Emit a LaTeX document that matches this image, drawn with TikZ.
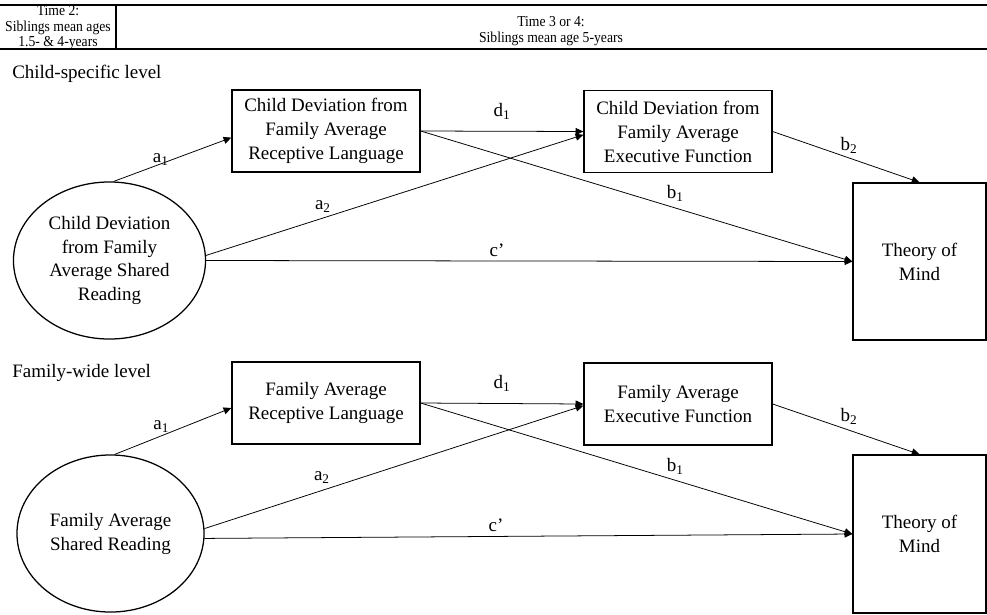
\documentclass[tikz,border=0pt]{standalone}
\usepackage{fontspec}
\setmainfont{Liberation Serif}
\newfontfamily\hdfont[FakeStretch=0.9]{Liberation Serif}
\usepackage{tikz}
\usetikzlibrary{arrows.meta, shapes.geometric}

\begin{document}
\begin{tikzpicture}[x=0.025cm, y=-0.025cm,
    font=\fontsize{13.5}{17}\selectfont,
    varbox/.style={draw, line width=0.9pt, minimum width=4.7cm,
                   minimum height=2.05cm, align=center, inner sep=0pt},
    tombox/.style={draw, line width=0.9pt, minimum width=3.325cm,
                   minimum height=3.925cm, align=center, inner sep=0pt},
    latent/.style={draw, ellipse, line width=0.9pt, minimum width=4.8cm,
                   minimum height=3.925cm, align=center, inner sep=0pt},
    header/.style={align=center, font=\hdfont\fontsize{10.8}{11}\selectfont},
    link/.style={-{Triangle[length=5.5pt, width=5pt]}, line width=0.55pt},
    lbl/.style={inner sep=0pt}]
  \useasboundingbox (0,0) rectangle (987,614);

  % header
  \draw[line width=1.4pt] (0,5) -- (987,5);
  \draw[line width=1.4pt] (0,49) -- (987,49);
  \draw[line width=1.2pt] (116,5) -- (116,49);
  \node[header] (hdtwo) at (58,28)
    {Time 2:\\Siblings mean ages\\1.5- \& 4-years};
  \node[header] (hdthree) at (551,31)
    {Time 3 or 4:\\Siblings mean age 5-years};

  % child-specific level
  \node[anchor=west, inner sep=0pt] (lvlchild) at (12,74) {Child-specific level};
  \node[latent] (srchild) at (109.5,260.5)
    {Child Deviation\\from Family\\Average Shared\\Reading};
  \node[varbox] (rlchild) at (326,131)
    {Child Deviation from\\Family Average\\Receptive Language};
  \node[varbox] (efchild) at (678,131.5)
    {Child Deviation from\\Family Average\\Executive Function};
  \node[tombox] (tomchild) at (919.5,261.5) {Theory of\\Mind};

  \draw[link] (srchild.87) -- node[lbl, pos=0.4, above=-1.5pt] {a\textsubscript{1}} (rlchild.184);
  \draw[link] (srchild.3) -- node[lbl, pos=0.31, above=4pt] {a\textsubscript{2}} (efchild.182);
  \draw[link] (srchild.east) -- node[lbl, pos=0.45, above=3pt] {c’} (tomchild.west);
  \draw[link] (rlchild.east) -- node[lbl, pos=0.5, above=8pt] {d\textsubscript{1}} (efchild.west);
  \draw[link] (rlchild.east) -- node[lbl, pos=0.59, above=4pt] {b\textsubscript{1}} (tomchild.west);
  \draw[link] (efchild.east) -- node[lbl, pos=0.52, above=3pt] {b\textsubscript{2}} (tomchild.north);

  % family-wide level
  \node[anchor=west, inner sep=0pt] (lvlfam) at (12,373) {Family-wide level};
  \node[latent, minimum width=4.675cm] (srfam) at (110.5,533.5)
    {Family Average\\Shared Reading};
  \node[varbox] (rlfam) at (326,403)
    {Family Average\\Receptive Language};
  \node[varbox] (effam) at (678,404)
    {Family Average\\Executive Function};
  \node[tombox, minimum height=3.95cm] (tomfam) at (919.5,534) {Theory of\\Mind};

  \draw[link] (srfam.87) -- node[lbl, pos=0.4, above=2pt] {a\textsubscript{1}} (rlfam.183);
  \draw[link] (srfam.3) -- node[lbl, pos=0.31, above=5pt] {a\textsubscript{2}} (effam.181);
  \draw[link] (srfam.357) -- node[lbl, pos=0.45, above=3pt] {c’} (tomfam.west);
  \draw[link] (rlfam.east) -- node[lbl, pos=0.5, above=8pt] {d\textsubscript{1}} (effam.west);
  \draw[link] (rlfam.east) -- node[lbl, pos=0.59, above=4pt] {b\textsubscript{1}} (tomfam.west);
  \draw[link] (effam.east) -- node[lbl, pos=0.52, above=4pt] {b\textsubscript{2}} (tomfam.north);
\end{tikzpicture}
\end{document}
